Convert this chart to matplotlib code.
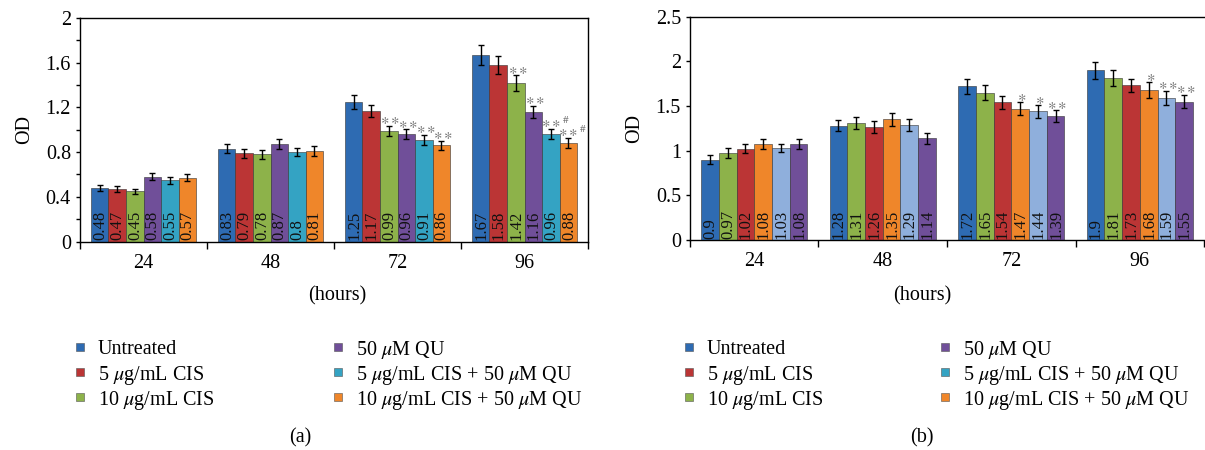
import numpy as np
import matplotlib
matplotlib.use('Agg')
import matplotlib.pyplot as plt
from matplotlib.patches import Rectangle

plt.rcParams['font.family'] = ['Liberation Serif', 'DejaVu Serif']
plt.rcParams['mathtext.fontset'] = 'stix'

hours = ['24', '48', '72', '96']
groups = ['Untreated', '5 $\\mu$g/mL CIS', '10 $\\mu$g/mL CIS',
          '50 $\\mu$M QU', '5 $\\mu$g/mL CIS + 50 $\\mu$M QU',
          '10 $\\mu$g/mL CIS + 50 $\\mu$M QU']

# panel (a): one list per treatment, values at 24/48/72/96 h
a_vals = [
    [0.48, 0.83, 1.25, 1.67],
    [0.47, 0.79, 1.17, 1.58],
    [0.45, 0.78, 0.99, 1.42],
    [0.58, 0.87, 0.96, 1.16],
    [0.55, 0.80, 0.91, 0.96],
    [0.57, 0.81, 0.86, 0.88],
]
a_labels = [
    ['0.48', '0.83', '1.25', '1.67'],
    ['0.47', '0.79', '1.17', '1.58'],
    ['0.45', '0.78', '0.99', '1.42'],
    ['0.58', '0.87', '0.96', '1.16'],
    ['0.55', '0.8', '0.91', '0.96'],
    ['0.57', '0.81', '0.86', '0.88'],
]
a_err = [
    [0.025, 0.04, 0.063, 0.088],
    [0.027, 0.042, 0.052, 0.08],
    [0.022, 0.04, 0.048, 0.07],
    [0.033, 0.045, 0.045, 0.055],
    [0.031, 0.037, 0.045, 0.045],
    [0.03, 0.043, 0.042, 0.046],
]
a_sig = [
    ['', '', '', ''],
    ['', '', '', ''],
    ['', '', '**', '**'],
    ['', '', '**', '**'],
    ['', '', '**', '**#'],
    ['', '', '**', '**#'],
]

# panel (b): bars drawn in a different colour order than its legend
b_vals = [
    [0.90, 1.28, 1.72, 1.90],
    [0.97, 1.31, 1.65, 1.81],
    [1.02, 1.26, 1.54, 1.73],
    [1.08, 1.35, 1.47, 1.68],
    [1.03, 1.29, 1.44, 1.59],
    [1.08, 1.14, 1.39, 1.55],
]
b_labels = [
    ['0.9', '1.28', '1.72', '1.9'],
    ['0.97', '1.31', '1.65', '1.81'],
    ['1.02', '1.26', '1.54', '1.73'],
    ['1.08', '1.35', '1.47', '1.68'],
    ['1.03', '1.29', '1.44', '1.59'],
    ['1.08', '1.14', '1.39', '1.55'],
]
b_err = [
    [0.05, 0.064, 0.086, 0.097],
    [0.056, 0.066, 0.08, 0.09],
    [0.049, 0.067, 0.077, 0.077],
    [0.056, 0.07, 0.075, 0.088],
    [0.05, 0.067, 0.071, 0.082],
    [0.056, 0.062, 0.066, 0.077],
]
b_sig = [
    ['', '', '', ''],
    ['', '', '', ''],
    ['', '', '', ''],
    ['', '', '*', '*'],
    ['', '', '*', '**'],
    ['', '', '**', '**'],
]

c_blue = '#2e6bb2'
c_red = '#bb3535'
c_green = '#8db24a'
c_purple = '#704f99'
c_cyan = '#34a3c3'
c_orange = '#ef862a'
c_lblue = '#8fafdc'
a_colors = [c_blue, c_red, c_green, c_purple, c_cyan, c_orange]
b_colors = [c_blue, c_green, c_red, c_orange, c_lblue, c_purple]

W, H = 1205.0, 450.0


def sig_text(s):
    body = '\\ast' * s.count('*')
    if '#' in s:
        body += '^{\\#}'
    return '$' + body + '$'


def draw_panel(ax, vals, labels, errs, sigs, colors, ymax, yticks, ytlabels, minor):
    x = np.arange(len(hours))
    w = 0.138
    for i in range(len(vals)):
        pos = x + (i - 2.5) * w
        ax.bar(pos, vals[i], w, color=colors[i], edgecolor='#333333', linewidth=0.4,
               yerr=errs[i], error_kw=dict(ecolor='black', elinewidth=1.0, capsize=2.5, capthick=1.0))
        for j in range(len(x)):
            ax.text(pos[j] + 0.03 * w, ymax * 0.006, labels[i][j], rotation=90, ha='center', va='bottom',
                    fontsize=12, color='#111111')
            if sigs[i][j]:
                dx = 0.25 * w if '#' in sigs[i][j] else 0.1 * w
                ax.text(pos[j] + dx, vals[i][j] + errs[i][j] - ymax * 0.012,
                        sig_text(sigs[i][j]), ha='center', va='bottom', fontsize=11.5, color='#6a6a6a')
    ax.set_xlim(-0.5, 3.5)
    ax.set_ylim(0, ymax)
    ax.set_xticks(x)
    ax.set_xticklabels(hours, fontsize=14.5)
    ax.set_xticks(np.arange(-0.5, 4.0, 1.0), minor=True)
    ax.tick_params(axis='x', which='major', length=0, pad=9)
    ax.tick_params(axis='x', which='minor', length=5, width=1, direction='out')
    ax.set_yticks(yticks)
    ax.set_yticklabels(ytlabels, fontsize=14.5)
    if minor is not None:
        ax.set_yticks(minor, minor=True)
    ax.tick_params(axis='y', which='both', length=3, width=1, direction='out')
    for s in ax.spines.values():
        s.set_linewidth(1.0)
    ax.set_ylabel('OD', fontsize=14.5, labelpad=8)


def draw_key(fig, x_cols, rows):
    # colour key laid out as two columns of three entries
    for k in range(len(groups)):
        xc = x_cols[k // 3]
        yc = rows[k % 3]
        sq = 8.5
        fig.patches.append(Rectangle(((xc - sq / 2) / W, 1 - (yc + sq / 2) / H), sq / W, sq / H,
                                     transform=fig.transFigure, facecolor=a_colors[k],
                                     edgecolor='#555555', linewidth=0.4))
        fig.text((xc + 18) / W, 1 - yc / H, groups[k], ha='left', va='center_baseline',
                 fontsize=14.5)


fig = plt.figure(figsize=(12.05, 4.5), dpi=100)
ax1 = fig.add_axes([0.0664, 0.4633, 0.4216, 0.4967])
ax2 = fig.add_axes([0.5726, 0.4667, 0.4266, 0.4963])

draw_panel(ax1, a_vals, a_labels, a_err, a_sig, a_colors, 2.0,
           [0, 0.4, 0.8, 1.2, 1.6, 2.0], ['0', '0.4', '0.8', '1.2', '1.6', '2'],
           np.arange(0, 2.01, 0.2))
draw_panel(ax2, b_vals, b_labels, b_err, b_sig, b_colors, 2.5,
           [0, 0.5, 1.0, 1.5, 2.0, 2.5], ['0', '0.5', '1', '1.5', '2', '2.5'], None)
ax2.spines['right'].set_visible(False)

draw_key(fig, [80, 338], [347, 372, 397])
draw_key(fig, [689, 945], [347, 372, 397])

fig.text(337 / W, 1 - 296 / H, '(hours)', ha='center', va='center', fontsize=14.5)
fig.text(922 / W, 1 - 296 / H, '(hours)', ha='center', va='center', fontsize=14.5)
fig.text(300 / W, 1 - 438 / H, '(a)', ha='center', va='center', fontsize=14.5)
fig.text(922 / W, 1 - 438 / H, '(b)', ha='center', va='center', fontsize=14.5)

fig.savefig('out.png', dpi=100)
